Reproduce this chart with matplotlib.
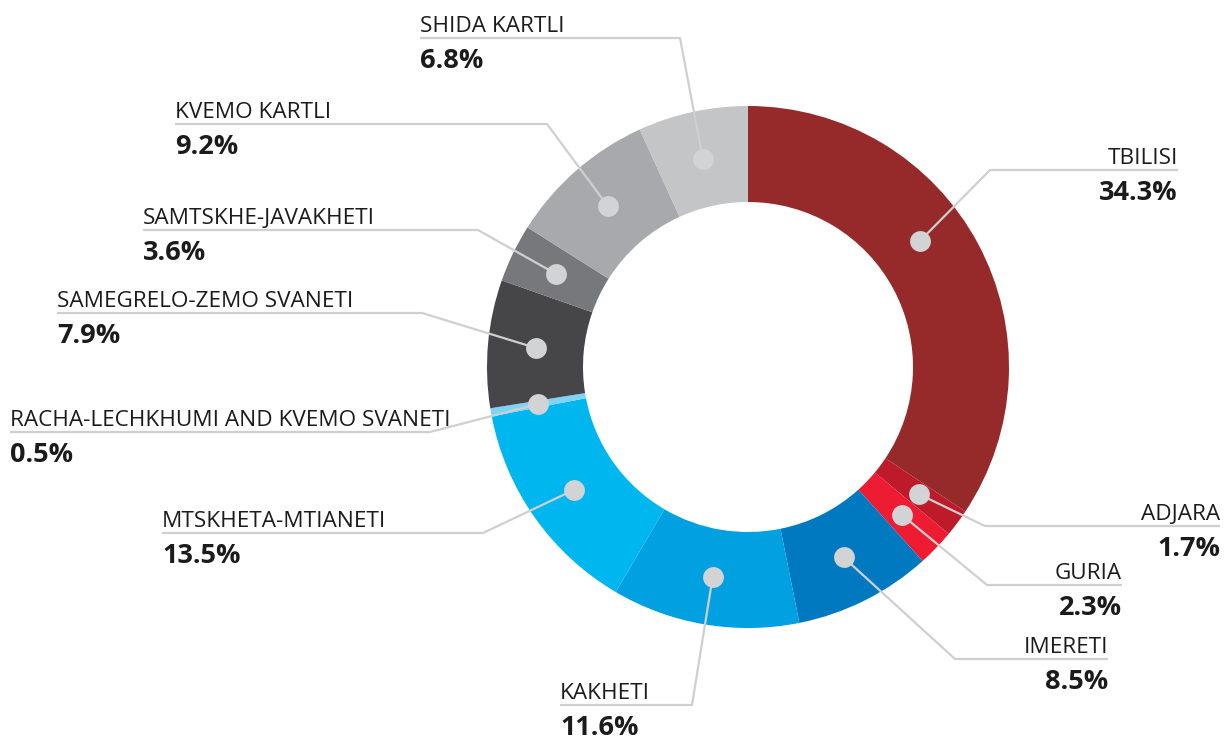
import numpy as np
import matplotlib
matplotlib.use("Agg")
import matplotlib.pyplot as plt

regions = ["TBILISI", "ADJARA", "GURIA", "IMERETI", "KAKHETI", "MTSKHETA-MTIANETI",
           "RACHA-LECHKHUMI AND KVEMO SVANETI", "SAMEGRELO-ZEMO SVANETI",
           "SAMTSKHE-JAVAKHETI", "KVEMO KARTLI", "SHIDA KARTLI"]
shares = [34.3, 1.7, 2.3, 8.5, 11.6, 13.5, 0.5, 7.9, 3.6, 9.2, 6.8]
colors = ["#962A2B", "#BD1A2A", "#ED1C33", "#0079C1", "#00A0E1", "#00B6EF",
          "#7ED3F7", "#464648", "#77787B", "#A7A9AC", "#C4C5C7"]

# label layout (pixel coords): elbow point, line end x, dot position within slice
elbows = [(990, 170), (985, 526), (987, 585), (955, 659), (692, 705), (483, 533),
          (430, 432), (422, 313), (478, 230), (547, 124), (680, 38)]
line_ends = [1178, 1220, 1122, 1108, 560, 162, 10, 57, 143, 175, 420]
dot_frac = [0.435, 0.5, 0.5, 0.5, 0.5, 0.5, 0.5, 0.5, 0.5, 0.5, 0.5]

W, H = 1227, 740
fig = plt.figure(figsize=(W / 100, H / 100), dpi=100)
ax = fig.add_axes([0, 0, 1, 1])

cx, cy, R, width = 748, 367, 261, 96
# y axis is inverted below, so a visually clockwise pie from the top is
# counterclockwise in data coordinates starting at -90 degrees
wedges, _ = ax.pie(shares, colors=colors, startangle=-90, counterclock=True,
                   center=(cx, cy), radius=R, frame=True,
                   wedgeprops=dict(width=width, edgecolor="none", linewidth=0))
ax.set_xlim(0, W)
ax.set_ylim(H, 0)
ax.set_aspect("equal")
ax.axis("off")

total = sum(shares)
rmid = R - width / 2
txtcol = "#1b1b1b"
cum = 0.0
for i, (name, v) in enumerate(zip(regions, shares)):
    mid = 90 - 360 * (cum + v * dot_frac[i]) / total
    cum += v
    dx = cx + rmid * np.cos(np.radians(mid))
    dy = cy - rmid * np.sin(np.radians(mid))
    ex, ey = elbows[i]
    lx = line_ends[i]
    ax.plot([dx, ex, lx], [dy, ey, ey], color="#CFCFCF", lw=1.6, zorder=3,
            solid_capstyle="butt")
    ax.plot([dx], [dy], "o", ms=15, color="#D1D3D4", zorder=4, mec="none")
    ha = "right" if lx > ex else "left"
    ax.text(lx, ey - 6, name, ha=ha, va="baseline", fontsize=16.2,
            family="Open Sans", color=txtcol, zorder=5)
    ax.text(lx, ey + 30, f"{v:.1f}%", ha=ha, va="baseline", fontsize=19.5,
            family="Open Sans", fontweight="bold", color=txtcol, zorder=5)

fig.savefig("out.png", dpi=100, facecolor="white")
